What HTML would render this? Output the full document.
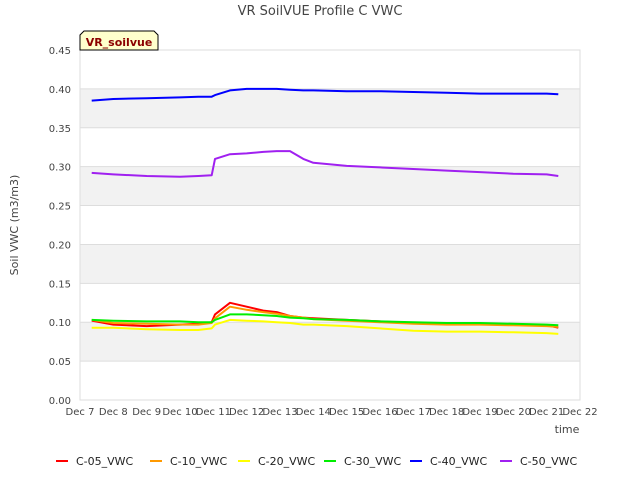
<!DOCTYPE html>
<html><head><meta charset="utf-8"><style>
body{margin:0;background:#fff;font-family:"Liberation Sans","DejaVu Sans",sans-serif;}
svg text{font-family:"DejaVu Sans","Liberation Sans",sans-serif;}
</style></head><body>
<svg id="c" width="640" height="480" xmlns="http://www.w3.org/2000/svg">
<text x="320" y="15" text-anchor="middle" font-size="13" fill="#444">VR SoilVUE Profile C VWC</text>
<g id="grid"></g>
<g id="series"></g>
<g id="axes"></g>
<text x="18" y="225" transform="rotate(-90 18 225)" text-anchor="middle" font-size="11" fill="#444">Soil VWC (m3/m3)</text>
<text x="567" y="433" text-anchor="middle" font-size="11" fill="#444">time</text>
<g>
<path d="M80,50 L80,35 L84,31 L154,31 L158,35 L158,50 Z" fill="#ffffcc" stroke="#000" stroke-width="1"/>
<text x="119" y="46" text-anchor="middle" font-size="11" font-weight="bold" fill="#8b0000">VR_soilvue</text>
</g>
<g id="legend"></g>
</svg>
<script>
const times=[0.35,1,2,3,3.55,3.95,4.05,4.5,5,5.5,5.9,6.3,6.7,7,8,9,10,11,12,13,14,14.35];
const c05=[0.102,0.097,0.095,0.097,0.098,0.100,0.110,0.125,0.120,0.115,0.113,0.108,0.106,0.105,0.103,0.101,0.099,0.098,0.098,0.097,0.096,0.093];
const c10=[0.103,0.099,0.098,0.097,0.097,0.099,0.105,0.120,0.116,0.113,0.111,0.108,0.106,0.104,0.102,0.100,0.098,0.097,0.097,0.096,0.095,0.094];
const c20=[0.093,0.093,0.091,0.090,0.090,0.092,0.097,0.103,0.102,0.101,0.100,0.099,0.097,0.097,0.095,0.092,0.089,0.088,0.088,0.087,0.086,0.085];
const c30=[0.103,0.102,0.101,0.101,0.100,0.100,0.103,0.110,0.110,0.109,0.108,0.106,0.105,0.104,0.103,0.101,0.100,0.099,0.099,0.098,0.097,0.096];
const c40=[0.385,0.387,0.388,0.389,0.390,0.390,0.392,0.398,0.400,0.400,0.400,0.399,0.398,0.398,0.397,0.397,0.396,0.395,0.394,0.394,0.394,0.393];
const c50=[0.292,0.290,0.288,0.287,0.288,0.289,0.310,0.316,0.317,0.319,0.320,0.320,0.310,0.305,0.301,0.299,0.297,0.295,0.293,0.291,0.290,0.288];
const seriesNames=["C-05_VWC","C-10_VWC","C-20_VWC","C-30_VWC","C-40_VWC","C-50_VWC"];
const yTicks=[0,0.05,0.10,0.15,0.20,0.25,0.30,0.35,0.40,0.45];
const xTickLabels=["Dec 7","Dec 8","Dec 9","Dec 10","Dec 11","Dec 12","Dec 13","Dec 14","Dec 15","Dec 16","Dec 17","Dec 18","Dec 19","Dec 20","Dec 21","Dec 22"];
const colors=["#ff0000","#ff9900","#ffff00","#00ee00","#0000ff","#a020f0"];
const data=[c05,c10,c20,c30,c40,c50];
const L=80,R=580,T=50,B=400;
const xs=d=>L+d*(R-L)/15;
const ys=v=>B-v*(B-T)/0.45;
const NS="http://www.w3.org/2000/svg";
function mk(tag,attrs,parent,txt){const e=document.createElementNS(NS,tag);for(const k in attrs)e.setAttribute(k,attrs[k]);if(txt!==undefined)e.textContent=txt;document.getElementById(parent).appendChild(e);return e;}
for(let i=0;i<yTicks.length-1;i++){
 if(i%2===1){const r=mk('rect',{x:L,y:ys(yTicks[i+1]),width:R-L,height:ys(yTicks[i])-ys(yTicks[i+1]),fill:'#f2f2f2'},'grid');
 
 }
}
yTicks.forEach(v=>{
 const l=mk('line',{x1:L,x2:R,y1:ys(v),y2:ys(v),stroke:'#dddddd'},'grid');
 
 
 const t=mk('text',{x:L-9,y:ys(v)+4,'text-anchor':'end','font-size':10,fill:'#444'},'axes',v.toFixed(2));
 
 
});
const fr=mk('rect',{x:L,y:T,width:R-L,height:B-T,fill:'none',stroke:'#dddddd'},'axes');


xTickLabels.forEach((s,i)=>{
 const t=mk('text',{x:xs(i),y:B+15,'text-anchor':'middle','font-size':10,fill:'#444'},'axes',s);
 
 
});
data.forEach((arr,si)=>{
 const pts=arr.map((v,i)=>xs(times[i]).toFixed(1)+','+ys(v).toFixed(1)).join(' ');
 const p=mk('polyline',{points:pts,fill:'none',stroke:colors[si],'stroke-width':2,'stroke-linejoin':'round'},'series');
 
 
});
const lx=[56,150,238,324,410,500];
seriesNames.forEach((n,i)=>{
 const g=mk('g',{},'legend');
 
 
 const l=document.createElementNS(NS,'line');
 l.setAttribute('x1',lx[i]);l.setAttribute('x2',lx[i]+12);l.setAttribute('y1',461);l.setAttribute('y2',461);
 l.setAttribute('stroke',colors[i]);l.setAttribute('stroke-width',2);g.appendChild(l);
 const t=document.createElementNS(NS,'text');
 t.setAttribute('x',lx[i]+20);t.setAttribute('y',465);t.setAttribute('font-size',11);t.setAttribute('fill','#222');
 t.textContent=n;g.appendChild(t);
});
</script>
</body></html>
